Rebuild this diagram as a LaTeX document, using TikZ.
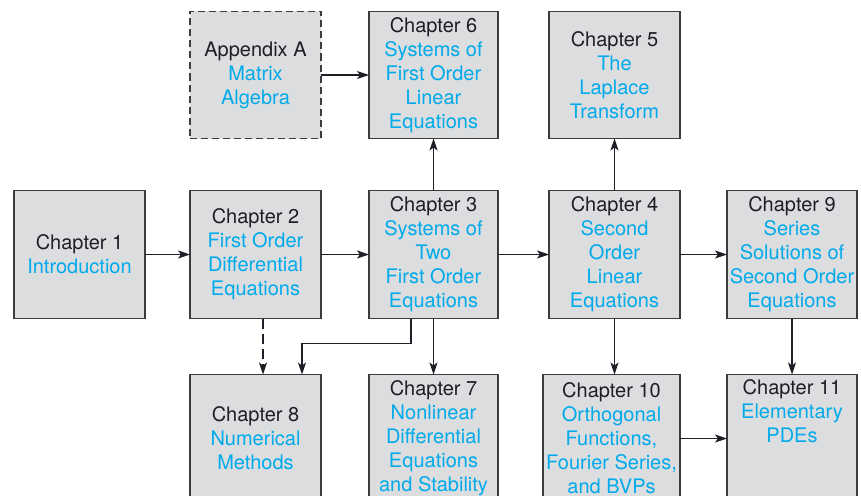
\documentclass[tikz,border=0pt]{standalone}
\usepackage{fontspec}
\setmainfont{TeX Gyre Heros}
\usepackage{xcolor}
\usetikzlibrary{positioning,arrows.meta}
\definecolor{titlecyan}{RGB}{0,170,235}
\definecolor{boxfill}{RGB}{220,221,223}
\definecolor{boxline}{RGB}{60,60,62}
\definecolor{inkdark}{RGB}{30,30,38}
\newcommand{\ttl}[1]{\textcolor{titlecyan}{#1}}

\begin{document}
\begin{tikzpicture}[
      x=1pt, y=-1pt,
      >={Stealth[length=12pt,width=8pt,inset=3pt]},
      chap/.style ={draw=boxline, fill=boxfill, line width=1.3pt,
                    align=center, inner sep=0pt, outer sep=0pt, text=inkdark,
                    minimum width=131pt, minimum height=128pt,
                    font=\fontsize{20}{24}\selectfont},
      appx/.style ={chap, dash pattern=on 7pt off 4pt},
      arr/.style  ={->, line width=1.3pt, draw=inkdark},
      dasharr/.style={arr, dash pattern=on 10pt off 5pt}
    ]
    \clip (0,0) rectangle (861,495);
    % --- middle row ---
    \node[chap] (ch1) at (79.5,254.5) {Chapter 1\\\ttl{Introduction}};
    \node[chap, right=45pt of ch1] (ch2)
      {Chapter 2\\\ttl{First Order}\\\ttl{Differential}\\\ttl{Equations}};
    \node[chap, right=48pt of ch2, minimum width=129pt] (ch3)
      {Chapter 3\\\ttl{Systems of}\\\ttl{Two}\\\ttl{First Order}\\\ttl{Equations}};
    \node[chap, right=51pt of ch3] (ch4)
      {Chapter 4\\\ttl{Second}\\\ttl{Order}\\\ttl{Linear}\\\ttl{Equations}};
    \node[chap, right=47pt of ch4, minimum width=130pt] (ch9)
      {Chapter 9\\\ttl{Series}\\\ttl{Solutions of}\\\ttl{Second Order}\\\ttl{Equations}};
    % --- top row ---
    \node[chap, above=52pt of ch3, minimum width=129pt, minimum height=127pt] (ch6)
      {Chapter 6\\\ttl{Systems of}\\\ttl{First Order}\\\ttl{Linear}\\\ttl{Equations}};
    \node[chap, above=52pt of ch4, minimum height=127pt] (ch5)
      {Chapter 5\\\ttl{The}\\\ttl{Laplace}\\\ttl{Transform}};
    \node[appx, left=48pt of ch6, minimum height=127pt] (appA)
      {Appendix A\\\ttl{Matrix}\\\ttl{Algebra}};
    % --- bottom row ---
    \node[chap, below=56pt of ch2] (ch8)
      {Chapter 8\\\ttl{Numerical}\\\ttl{Methods}};
    \node[chap, below=56pt of ch3, minimum width=129pt] (ch7)
      {Chapter 7\\\ttl{Nonlinear}\\\ttl{Differential}\\\ttl{Equations}\\\ttl{and Stability}};
    \node[chap, below=56pt of ch4.south east, anchor=north east, minimum width=137pt] (ch10)
      {Chapter 10\\\ttl{Orthogonal}\\\ttl{Functions,}\\\ttl{Fourier Series,}\\\ttl{and BVPs}};
    \node[chap, below=56pt of ch9, minimum width=130pt] (ch11)
      {Chapter 11\\\ttl{Elementary}\\\ttl{PDEs}\\\strut\\\strut};
    % --- arrows ---
    \draw[arr] (ch1) -- (ch2);
    \draw[arr] (ch2) -- (ch3);
    \draw[arr] (ch3) -- (ch4);
    \draw[arr] (ch4) -- (ch9);
    \draw[arr] (appA) -- (ch6);
    \draw[arr] (ch3) -- (ch6);
    \draw[arr] (ch4) -- (ch5);
    \draw[dasharr] ([xshift=7.5pt]ch2.south) -- ([xshift=7.5pt]ch8.north);
    \draw[arr] ([xshift=-22.5pt]ch3.south) -- ++(0,25) -| ([xshift=46.5pt]ch8.north);
    \draw[arr] (ch3) -- (ch7);
    \draw[arr] (ch4) -- (ch4 |- ch10.north);
    \draw[arr] (ch9) -- (ch11);
    \draw[arr] (ch10) -- (ch11);
  \end{tikzpicture}
\end{document}
